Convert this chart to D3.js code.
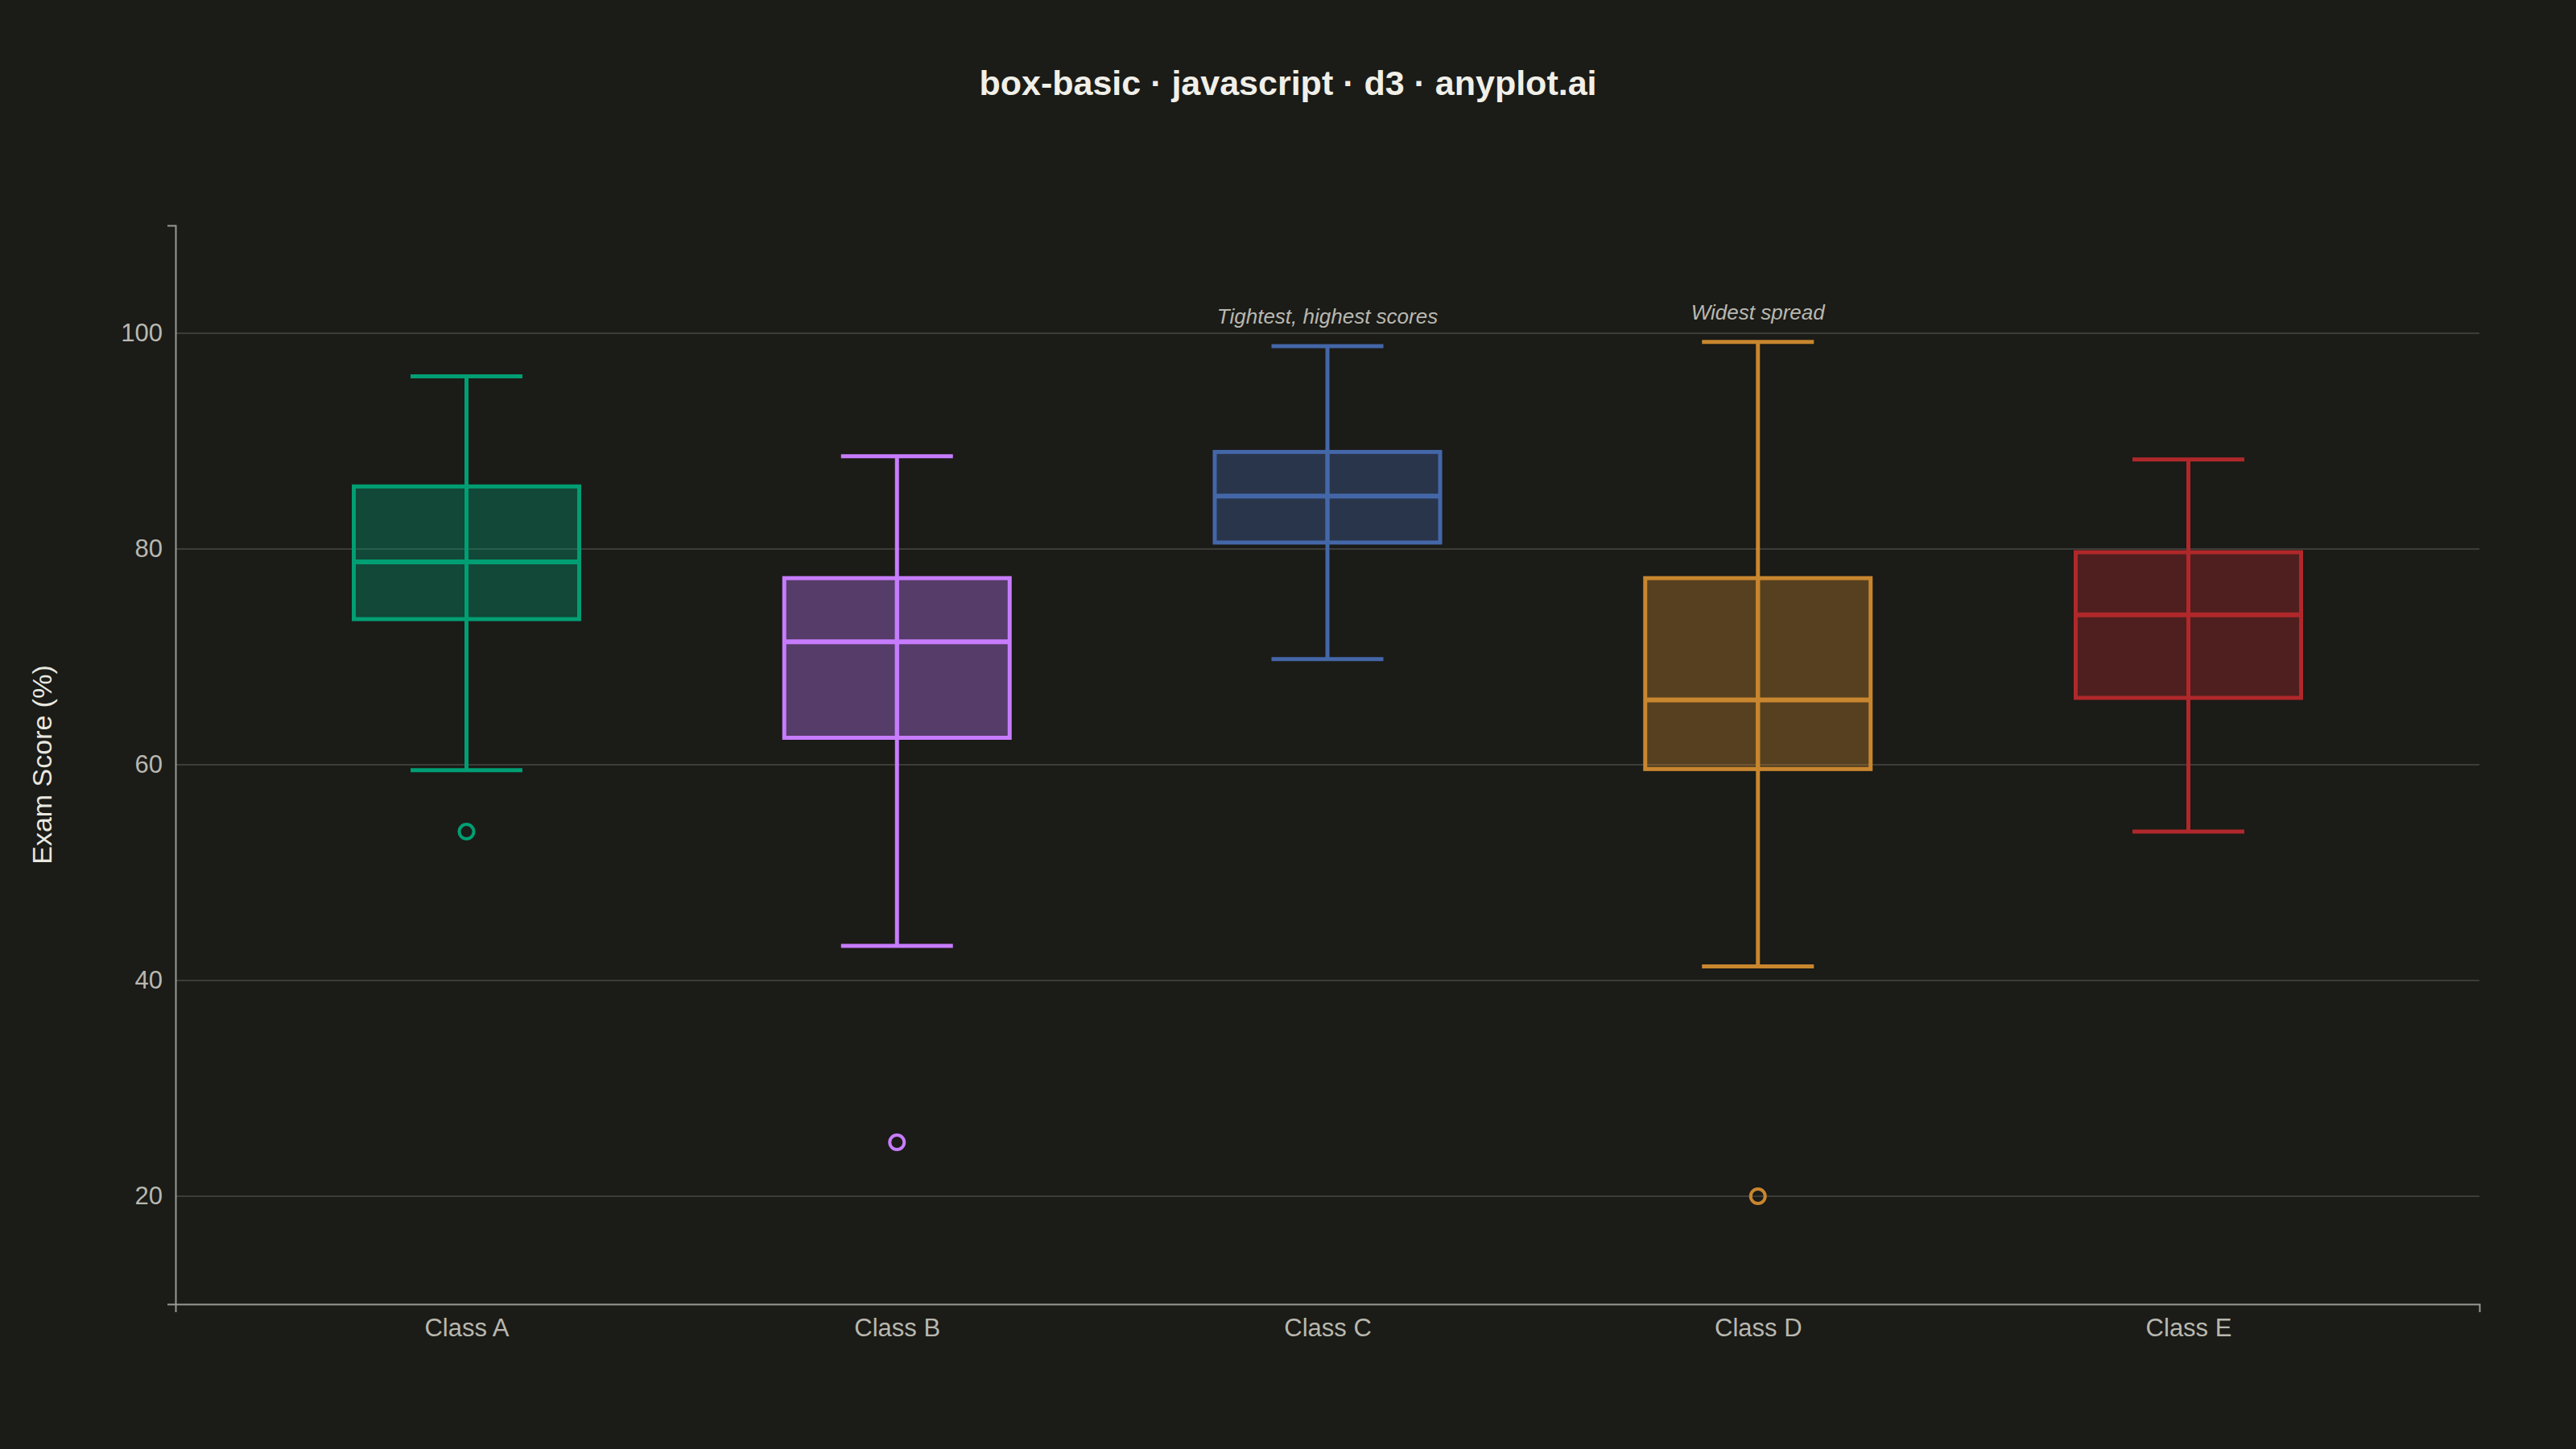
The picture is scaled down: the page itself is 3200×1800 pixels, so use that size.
<!DOCTYPE html>
<html><head><meta charset="utf-8">
<script src="https://cdn.jsdelivr.net/npm/d3@7"></script>
<style>html,body{margin:0;background:#1b1b17;}</style>
</head><body><svg id="c" width="3200" height="1800"></svg>
<script>
const categories = ["Class A","Class B","Class C","Class D","Class E"];
const lowWhisker = [59.5, 43.2, 69.8, 41.3, 53.8];
const q1 = [73.5, 62.5, 80.6, 59.6, 66.2];
const median = [78.8, 71.4, 84.9, 66.0, 73.9];
const q3 = [85.8, 77.3, 89.0, 77.3, 79.7];
const highWhisker = [96.0, 88.6, 98.8, 99.2, 88.3];
const outliers = [[53.8],[25.0],[],[20.0],[]];
const colors = ["#009E73","#C77CFF","#4467A8","#C8862F","#B0282B"];
const annotations = [{cat:"Class C", text:"Tightest, highest scores"},{cat:"Class D", text:"Widest spread"}];
const yTicks = [20,40,60,80,100];

const svg = d3.select("#c");
const L=218, R=3080, T=280, B=1620;
const y = d3.scaleLinear().domain([10,110]).range([B,T]);
const x = d3.scalePoint().domain(categories).range([L,R]).padding(0.676);
const font = "Liberation Sans, Arial, sans-serif";

svg.append("text").attr("x",1600).attr("y",118).attr("text-anchor","middle")
  .attr("fill","#f0efe8").attr("font-family",font).attr("font-size",43).attr("font-weight","bold")
  .text("box-basic · javascript · d3 · anyplot.ai");

svg.append("g").selectAll("line").data(yTicks).join("line")
  .attr("x1",L).attr("x2",R).attr("y1",d=>y(d)).attr("y2",d=>y(d))
  .attr("stroke","#3c3c38").attr("stroke-width",2);

const ya = svg.append("g").attr("transform",`translate(${L},0)`)
  .call(d3.axisLeft(y).tickValues(yTicks).tickSize(0).tickSizeOuter(10).tickPadding(16));
const xa = svg.append("g").attr("transform",`translate(0,${B})`)
  .call(d3.axisBottom(x).tickSize(0).tickSizeOuter(10).tickPadding(18));
[ya,xa].forEach(a=>{
  a.selectAll("path").attr("stroke","#9a9a94").attr("stroke-width",2);
  a.selectAll("text").attr("fill","#b8b8b0").attr("font-family",font).attr("font-size",31);
});

svg.append("text").attr("transform",`translate(64,${(T+B)/2}) rotate(-90)`)
  .attr("text-anchor","middle").attr("fill","#e8e8e0").attr("font-family",font).attr("font-size",34)
  .text("Exam Score (%)");

const bw=280, cw=139;
categories.forEach((c,i)=>{
  const g=svg.append("g"), cx=x(c), col=colors[i];
  g.append("line").attr("x1",cx).attr("x2",cx).attr("y1",y(highWhisker[i])).attr("y2",y(lowWhisker[i]))
    .attr("stroke",col).attr("stroke-width",5);
  [lowWhisker[i],highWhisker[i]].forEach(v=>g.append("line").attr("x1",cx-cw/2).attr("x2",cx+cw/2)
    .attr("y1",y(v)).attr("y2",y(v)).attr("stroke",col).attr("stroke-width",5));
  g.append("rect").attr("x",cx-bw/2).attr("width",bw).attr("y",y(q3[i])).attr("height",y(q1[i])-y(q3[i]))
    .attr("fill",col).attr("fill-opacity",0.35).attr("stroke",col).attr("stroke-width",5);
  g.append("line").attr("x1",cx).attr("x2",cx).attr("y1",y(q3[i])).attr("y2",y(q1[i]))
    .attr("stroke",col).attr("stroke-width",5);
  g.append("line").attr("x1",cx-bw/2).attr("x2",cx+bw/2).attr("y1",y(median[i])).attr("y2",y(median[i]))
    .attr("stroke",col).attr("stroke-width",6);
  outliers[i].forEach(v=>g.append("circle").attr("cx",cx).attr("cy",y(v)).attr("r",9)
    .attr("fill","none").attr("stroke",col).attr("stroke-width",4));
});

annotations.forEach(a=>{
  const i=categories.indexOf(a.cat);
  svg.append("text").attr("x",x(a.cat)).attr("y",y(highWhisker[i])-28).attr("text-anchor","middle")
    .attr("fill","#b8b8b0").attr("font-family",font).attr("font-size",26).attr("font-style","italic")
    .text(a.text);
});
</script></body></html>
